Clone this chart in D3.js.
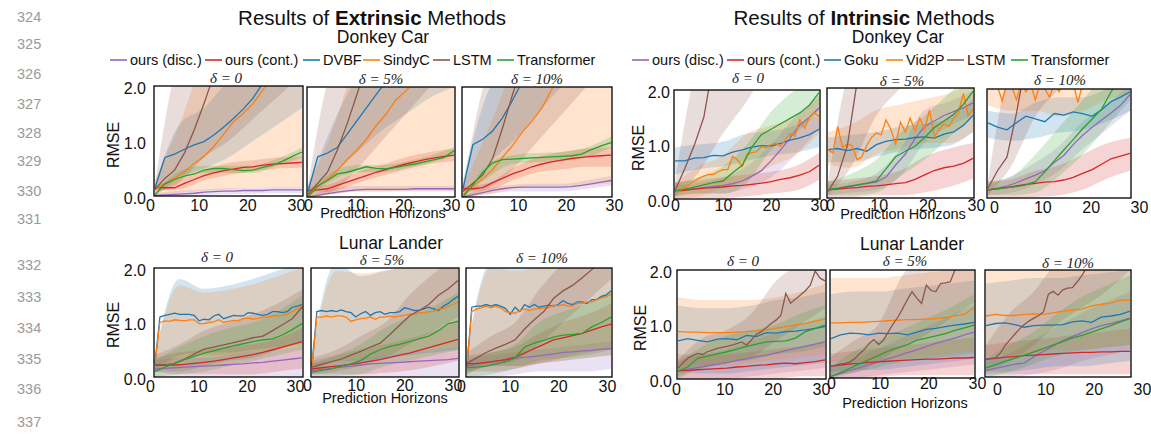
<!DOCTYPE html>
<html><head><meta charset="utf-8">
<script src="https://cdn.jsdelivr.net/npm/d3@7"></script>
<style>body{margin:0;background:#fff}svg{display:block;font-family:"Liberation Sans",Arial,sans-serif}</style>
</head><body><svg id="c" width="1151" height="435"></svg>
<script>
// ---------------- DATA ----------------
const xTicks = [0, 10, 20, 30];
const yTicks = [0, 1, 2];
const bandX = [0, 5, 10, 15, 20, 25, 30];
const deltaLabels = ["δ = 0", "δ = 5%", "δ = 10%"];
const extLegend = ["ours (disc.)", "ours (cont.)", "DVBF", "SindyC", "LSTM", "Transformer"];
const intLegend = ["ours (disc.)", "ours (cont.)", "Goku", "Vid2P", "LSTM", "Transformer"];
const lineNumbers = [324,325,326,327,328,329,330,331,332,333,334,335,336,337];

// series: disc, cont, b1 (DVBF/Goku), b2 (SindyC/Vid2P), lstm, trans
// arrays of length 16 -> horizons 0,2,..,30 ; length 31 -> horizons 0..30
const extDk0 = {
  disc:[0.01,0.02,0.03,0.04,0.05,0.07,0.08,0.09,0.09,0.1,0.1,0.1,0.11,0.11,0.11,0.11],
  cont:[0.15,0.15,0.15,0.23,0.3,0.37,0.42,0.46,0.49,0.52,0.53,0.56,0.58,0.59,0.6,0.61],
  b1:[0.15,0.7,0.76,0.85,0.93,0.99,1.11,1.25,1.41,1.58,1.78,2.05,2.3,2.55,2.8,3],
  b2:[0.12,0.23,0.32,0.44,0.59,0.72,0.9,1.12,1.35,1.5,1.68,1.93,2.15,2.4,2.6,2.8],
  lstm:[0.12,0.32,0.47,0.78,1.2,1.68,2.2,2.6,3,3,3,3,3,3,3,3],
  trans:[0.02,0.22,0.3,0.36,0.4,0.47,0.5,0.5,0.48,0.46,0.47,0.52,0.56,0.63,0.72,0.8]
};
const extDk0Band = {
  disc:[[0,0.05],[0,0.1],[0.02,0.12],[0.03,0.14],[0.04,0.15],[0.05,0.16],[0.05,0.16]],
  cont:[[0.1,0.2],[0.12,0.3],[0.28,0.46],[0.38,0.6],[0.45,0.65],[0.5,0.7],[0.52,0.72]],
  b1:[[0.1,0.2],[0.35,1.3],[0.5,1.6],[0.7,2.1],[1,2.5],[1.3,3],[1.6,3]],
  b2:[[0,0.3],[0.05,1.3],[0.1,2.5],[0.12,3],[0.15,3],[0.15,3],[0.15,3]],
  lstm:[[0.05,0.2],[0.25,2.5],[0.7,3],[1,3],[1.4,3],[1.8,3],[2.2,3]],
  trans:[[0,0.05],[0.3,0.45],[0.42,0.55],[0.42,0.55],[0.42,0.55],[0.55,0.68],[0.7,0.88]]
};
const extDk5 = {
  disc:[0,0.03,0.06,0.09,0.11,0.13,0.14,0.14,0.14,0.14,0.14,0.15,0.15,0.15,0.15,0.15],
  cont:[0.12,0.13,0.15,0.21,0.27,0.33,0.39,0.45,0.5,0.55,0.6,0.64,0.68,0.71,0.74,0.76],
  b1:[0.1,0.73,0.8,0.9,1.14,1.38,1.62,1.86,2.1,2.4,2.7,3,3,3,3,3],
  b2:[0.05,0.2,0.32,0.48,0.68,0.85,1.05,1.3,1.5,1.76,1.92,2.1,2.3,2.5,2.7,2.9],
  lstm:[0.05,0.25,0.45,0.85,1.32,1.85,2.4,3,3,3,3,3,3,3,3,3],
  trans:[0,0.2,0.3,0.42,0.45,0.5,0.55,0.52,0.51,0.54,0.57,0.6,0.64,0.68,0.72,0.84]
};
const extDk5Band = {
  disc:[[0,0.03],[0.05,0.15],[0.1,0.2],[0.1,0.2],[0.1,0.2],[0.1,0.2],[0.1,0.2]],
  cont:[[0.08,0.18],[0.1,0.25],[0.25,0.45],[0.38,0.58],[0.5,0.72],[0.6,0.82],[0.65,0.88]],
  b1:[[0.05,0.2],[0.4,1.3],[0.8,2.2],[1.2,3],[1.5,3],[1.8,3],[2,3]],
  b2:[[0,0.2],[0.05,1.2],[0.1,2.5],[0.1,3],[0.12,3],[0.12,3],[0.12,3]],
  lstm:[[0,0.2],[0.1,2.4],[0.5,3],[1,3],[1.5,3],[2,3],[2.5,3]],
  trans:[[0,0.05],[0.3,0.45],[0.45,0.58],[0.45,0.58],[0.52,0.64],[0.62,0.75],[0.75,0.9]]
};
const extDk10 = {
  disc:[0,0.04,0.08,0.12,0.15,0.17,0.18,0.18,0.18,0.18,0.18,0.19,0.21,0.24,0.27,0.3],
  cont:[0.15,0.15,0.17,0.26,0.34,0.42,0.48,0.55,0.6,0.64,0.67,0.7,0.72,0.74,0.75,0.76],
  b1:[0.15,0.95,1.05,1.2,1.44,1.75,2.1,2.5,3,3,3,3,3,3,3,3],
  b2:[0.05,0.2,0.33,0.5,0.72,0.93,1.18,1.38,1.62,1.96,2.3,2.6,2.9,3,3,3],
  lstm:[0.1,0.25,0.4,0.7,1.25,1.85,2.4,3,3,3,3,3,3,3,3,3],
  trans:[0,0.22,0.45,0.62,0.68,0.69,0.7,0.71,0.72,0.73,0.74,0.75,0.78,0.86,0.93,0.99]
};
const extDk10Band = {
  disc:[[0,0.03],[0.05,0.15],[0.1,0.22],[0.1,0.24],[0.1,0.24],[0.15,0.3],[0.2,0.38]],
  cont:[[0.1,0.2],[0.12,0.25],[0.3,0.52],[0.45,0.72],[0.5,0.82],[0.55,0.88],[0.55,0.9]],
  b1:[[0.1,0.3],[0.6,1.9],[1,2.5],[1.5,3],[2,3],[2.2,3],[2.5,3]],
  b2:[[0,0.2],[0.05,1.2],[0.15,2.3],[0.2,3],[0.2,3],[0.22,3],[0.25,3]],
  lstm:[[0,0.2],[0.15,2.3],[0.5,3],[1,3],[1.5,3],[2,3],[2.5,3]],
  trans:[[0,0.05],[0.35,0.6],[0.6,0.76],[0.63,0.8],[0.65,0.82],[0.72,0.9],[0.9,1.1]]
};
const extLn0 = {
  disc:[0.15,0.16,0.17,0.18,0.19,0.2,0.21,0.22,0.23,0.24,0.26,0.27,0.29,0.31,0.33,0.35],
  cont:[0.22,0.22,0.22,0.23,0.25,0.27,0.29,0.32,0.35,0.38,0.41,0.45,0.5,0.55,0.6,0.65],
  b1:[0.25,1.1,1.13,1.15,1.17,1.15,1.15,1.15,1.13,1.03,1.06,1.05,1.12,1.15,1.07,1.1,1.13,1.12,1.12,1.18,1.17,1.15,1.13,1.15,1.2,1.2,1.18,1.2,1.28,1.3,1.33],
  b2:[0.25,1,1.03,1.02,1.05,1.04,1.03,1.05,1.05,0.98,0.98,1,1.01,1.05,1,1.02,1.04,1.03,1.07,1.08,1.06,1.07,1.1,1.1,1.12,1.12,1.13,1.15,1.2,1.25,1.3],
  lstm:[0.22,0.22,0.25,0.33,0.42,0.51,0.55,0.59,0.63,0.67,0.72,0.75,0.85,0.96,1.07,1.28],
  trans:[0.1,0.18,0.25,0.32,0.38,0.44,0.48,0.53,0.57,0.61,0.65,0.68,0.7,0.77,0.87,0.98]
};
const extLn0Band = {
  disc:[[0,0.3],[0,0.35],[0,0.35],[0,0.4],[0,0.45],[0,0.5],[0,0.55]],
  cont:[[0.1,0.35],[0.05,0.45],[0.05,0.5],[0.05,0.55],[0.05,0.6],[0.1,0.7],[0.15,0.9]],
  b1:[[0.1,0.4],[0.4,1.8],[0.45,1.62],[0.45,1.68],[0.5,1.8],[0.55,1.95],[0.6,2.1]],
  b2:[[0.1,0.4],[0.35,1.68],[0.4,1.55],[0.4,1.6],[0.45,1.7],[0.5,1.85],[0.55,2]],
  lstm:[[0.1,0.4],[0.1,0.6],[0.2,0.85],[0.3,1],[0.35,1.15],[0.5,1.35],[0.65,1.6]],
  trans:[[0,0.3],[0.05,0.55],[0.1,0.75],[0.2,0.9],[0.3,1],[0.4,1.2],[0.5,1.5]]
};
const extLn5 = {
  disc:[0.12,0.14,0.16,0.18,0.2,0.22,0.24,0.25,0.26,0.27,0.28,0.29,0.3,0.31,0.32,0.34],
  cont:[0.15,0.17,0.19,0.21,0.23,0.26,0.29,0.32,0.36,0.4,0.44,0.49,0.54,0.59,0.64,0.69],
  b1:[0.2,1.2,1.22,1.2,1.22,1.2,1.23,1.2,1.18,1.1,1.16,1.2,1.13,1.18,1.2,1.15,1.18,1.18,1.2,1.27,1.25,1.22,1.22,1.25,1.28,1.25,1.22,1.3,1.35,1.42,1.48],
  b2:[0.2,1.1,1.1,1.12,1.1,1.12,1.12,1.1,1.02,1.05,1.07,1.08,1.1,1.06,1.1,1.1,1.12,1.1,1.12,1.13,1.15,1.15,1.18,1.18,1.2,1.2,1.25,1.25,1.3,1.33,1.38],
  lstm:[0.18,0.23,0.28,0.33,0.4,0.47,0.55,0.62,0.78,0.95,1.12,1.22,1.33,1.5,1.62,1.77],
  trans:[0.09,0.12,0.15,0.2,0.24,0.3,0.42,0.5,0.56,0.6,0.65,0.7,0.75,0.85,0.98,1.02]
};
const extLn5Band = {
  disc:[[0,0.25],[0,0.3],[0,0.35],[0,0.4],[0,0.45],[0,0.5],[0,0.55]],
  cont:[[0.05,0.3],[0.05,0.4],[0.05,0.5],[0.08,0.6],[0.12,0.7],[0.2,0.85],[0.3,1.05]],
  b1:[[0.1,0.5],[0.3,2.1],[0.3,1.85],[0.35,1.95],[0.4,2.05],[0.45,2.1],[0.5,2.2]],
  b2:[[0.1,0.4],[0.3,1.95],[0.35,1.9],[0.4,1.95],[0.45,2],[0.5,2],[0.55,2.1]],
  lstm:[[0.05,0.35],[0.1,0.5],[0.2,0.75],[0.35,1],[0.6,1.5],[0.85,1.9],[1.1,2.2]],
  trans:[[0,0.25],[0.02,0.4],[0.05,0.6],[0.2,0.9],[0.3,1.1],[0.4,1.3],[0.5,1.55]]
};
const extLn10 = {
  disc:[0.2,0.23,0.26,0.29,0.31,0.34,0.36,0.38,0.4,0.42,0.45,0.46,0.48,0.49,0.51,0.52],
  cont:[0.24,0.25,0.27,0.29,0.32,0.36,0.44,0.52,0.6,0.68,0.72,0.76,0.8,0.86,0.92,0.97],
  b1:[0.2,1.28,1.3,1.3,1.33,1.3,1.33,1.3,1.26,1.15,1.28,1.2,1.33,1.28,1.33,1.28,1.3,1.32,1.3,1.33,1.4,1.35,1.33,1.38,1.38,1.35,1.42,1.42,1.48,1.5,1.58],
  b2:[0.25,1.2,1.25,1.27,1.3,1.27,1.3,1.27,1.2,1.18,1.17,1.22,1.25,1.22,1.25,1.25,1.27,1.27,1.32,1.3,1.33,1.3,1.3,1.35,1.35,1.38,1.38,1.42,1.45,1.47,1.52],
  lstm:[0.25,0.35,0.45,0.53,0.6,0.68,0.88,1.05,1.2,1.44,1.58,1.68,1.82,1.97,2.15,2.3],
  trans:[0.17,0.18,0.2,0.24,0.28,0.35,0.55,0.62,0.67,0.73,0.77,0.78,0.8,0.92,1,1.1]
};
const extLn10Band = {
  disc:[[0,0.35],[0,0.4],[0.05,0.45],[0.1,0.5],[0.1,0.55],[0.1,0.6],[0.15,0.65]],
  cont:[[0.1,0.4],[0.1,0.45],[0.15,0.55],[0.25,0.8],[0.35,1],[0.45,1.15],[0.5,1.35]],
  b1:[[0.05,0.5],[0.2,2.1],[0.2,2],[0.25,2.1],[0.3,2.1],[0.35,2.2],[0.4,2.3]],
  b2:[[0.05,0.5],[0.2,2],[0.2,1.95],[0.25,2],[0.3,2.05],[0.35,2.1],[0.4,2.2]],
  lstm:[[0.1,0.45],[0.2,0.75],[0.3,1],[0.6,1.6],[1,2.1],[1.4,2.6],[1.8,2.9]],
  trans:[[0,0.3],[0.05,0.45],[0.15,0.6],[0.3,1],[0.35,1.2],[0.4,1.35],[0.5,1.6]]
};
const intDk0 = {
  disc:[0.15,0.17,0.19,0.21,0.23,0.25,0.28,0.33,0.42,0.52,0.7,0.9,1.12,1.36,1.5,1.67],
  cont:[0.14,0.16,0.18,0.2,0.21,0.22,0.24,0.25,0.27,0.29,0.32,0.36,0.39,0.44,0.5,0.62],
  b1:[0.7,0.7,0.75,0.76,0.8,0.79,0.86,0.9,0.95,0.98,0.97,1.02,1.08,1.12,1.18,1.28],
  b2:[0.12,0.15,0.2,0.27,0.33,0.38,0.42,0.45,0.45,0.5,0.54,0.54,0.78,0.72,0.6,0.82,0.85,0.87,0.96,0.94,1,1.02,0.97,1.09,1.2,1.15,1.45,1.3,1.5,1.58,1.52],
  lstm:[0.15,0.55,0.98,1.5,2.5,3,3,3,3,3,3,3,3,3,3,3],
  trans:[0.15,0.18,0.22,0.26,0.3,0.33,0.48,0.62,0.95,1.18,1.28,1.38,1.48,1.58,1.72,1.95]
};
const intDk0Band = {
  disc:[[0.05,0.25],[0.1,0.3],[0.1,0.4],[0.2,0.6],[0.4,1],[0.8,1.5],[1.3,1.9]],
  cont:[[0.02,0.3],[0.02,0.35],[0.02,0.4],[0.05,0.45],[0.1,0.5],[0.15,0.6],[0.35,0.85]],
  b1:[[0.45,0.95],[0.55,1],[0.6,1.05],[0.7,1.2],[0.8,1.25],[0.85,1.35],[0.95,1.55]],
  b2:[[0,0.3],[0.05,0.6],[0.2,0.8],[0.35,1.2],[0.6,1.35],[0.8,1.5],[1.2,1.9]],
  lstm:[[0.05,0.3],[0.5,2.5],[1.2,3],[1.8,3],[2.5,3],[3,3],[3,3]],
  trans:[[0.05,0.3],[0.1,0.4],[0.1,0.6],[0.3,1],[0.9,1.6],[1.2,2],[1.6,2.3]]
};
const intDk5 = {
  disc:[0.15,0.17,0.2,0.23,0.26,0.29,0.38,0.6,0.8,1.08,1.3,1.4,1.5,1.57,1.64,1.73],
  cont:[0.15,0.16,0.18,0.19,0.21,0.22,0.24,0.26,0.28,0.34,0.42,0.5,0.55,0.58,0.63,0.72],
  b1:[0.88,0.9,0.86,0.9,0.85,0.97,1.03,1.06,1.07,1.1,1.11,1.09,1.16,1.2,1.32,1.5],
  b2:[0.88,0.82,1.3,0.92,0.98,0.95,0.7,0.75,0.95,1.1,1.18,1.15,1.42,1.25,0.98,1.38,1.2,1.45,1.22,1.45,1.25,1.6,1.1,1.25,1.35,1.3,1.45,1.55,1.9,1.5,1.62],
  lstm:[0.12,0.4,0.95,2.1,3,3,3,3,3,3,3,3,3,3,3,3],
  trans:[0.15,0.18,0.21,0.24,0.27,0.31,0.53,0.75,0.85,0.94,1.1,1.28,1.4,1.52,1.7,1.94]
};
const intDk5Band = {
  disc:[[0.05,0.25],[0.1,0.3],[0.15,0.45],[0.4,0.9],[1,1.6],[1.3,1.75],[1.5,1.95]],
  cont:[[0.02,0.3],[0.02,0.35],[0.05,0.4],[0.05,0.5],[0.1,0.75],[0.2,0.9],[0.35,1]],
  b1:[[0.65,1.1],[0.65,1.15],[0.75,1.2],[0.85,1.3],[0.9,1.35],[0.95,1.45],[1.2,1.8]],
  b2:[[0.6,1.2],[0.55,1.35],[0.8,1.6],[0.9,1.7],[1,1.8],[1,1.9],[1.2,2.1]],
  lstm:[[0.05,0.3],[0.6,2.5],[1.5,3],[2,3],[2.5,3],[3,3],[3,3]],
  trans:[[0.05,0.3],[0.05,0.45],[0.1,0.7],[0.4,1.2],[0.7,1.5],[1.1,1.9],[1.5,2.3]]
};
const intDk10 = {
  disc:[0.15,0.18,0.22,0.28,0.35,0.42,0.5,0.65,0.78,0.98,1.15,1.3,1.43,1.56,1.7,1.9],
  cont:[0.15,0.17,0.19,0.22,0.25,0.27,0.29,0.3,0.33,0.38,0.45,0.52,0.62,0.72,0.77,0.82],
  b1:[1.38,1.3,1.25,1.38,1.5,1.45,1.4,1.55,1.52,1.58,1.55,1.5,1.62,1.77,1.85,1.95],
  b2:[2.1,2,2.05,1.78,2.1,2.05,1.8,2.1,1.95,2.1,1.8,2.1,2,1.85,2.1,1.95,2.1,2.05,2.1,1.75,2.1,2.05,2.15,2.1,2.2,2.2,2.2,2.2,2.2,2.2,2.2],
  lstm:[0.18,0.5,0.75,1.55,2.5,3,3,3,3,3,3,3,3,3,3,3],
  trans:[0.15,0.17,0.19,0.21,0.24,0.3,0.48,0.68,0.88,1.07,1.27,1.45,1.63,1.95,2.2,2.4]
};
const intDk10Band = {
  disc:[[0.05,0.25],[0.1,0.4],[0.25,0.65],[0.5,0.95],[0.9,1.4],[1.25,1.7],[1.6,2.1]],
  cont:[[0,0.3],[0,0.35],[0.02,0.5],[0.05,0.6],[0.15,0.8],[0.35,1],[0.5,1.1]],
  b1:[[1.1,1.6],[1.05,1.55],[1.1,1.75],[1.2,1.85],[1.25,1.85],[1.4,2],[1.6,2.2]],
  b2:[[1.7,2.5],[1.6,2.5],[1.6,2.5],[1.5,2.5],[1.6,2.5],[1.8,2.6],[1.9,2.6]],
  lstm:[[0.05,0.3],[0.6,2.5],[1.5,3],[2,3],[2.5,3],[3,3],[3,3]],
  trans:[[0.05,0.3],[0.05,0.4],[0.1,0.8],[0.4,1.3],[0.8,1.8],[1.3,2.3],[1.8,2.8]]
};
const intLn0 = {
  disc:[0.15,0.18,0.21,0.24,0.27,0.3,0.34,0.37,0.41,0.44,0.48,0.52,0.56,0.6,0.64,0.68],
  cont:[0.15,0.16,0.17,0.18,0.19,0.2,0.22,0.23,0.25,0.26,0.28,0.29,0.28,0.3,0.32,0.35],
  b1:[0.7,0.74,0.71,0.68,0.73,0.74,0.72,0.8,0.78,0.85,0.84,0.87,0.88,0.9,0.93,0.96],
  b2:[0.87,0.86,0.86,0.85,0.85,0.85,0.86,0.87,0.88,0.9,0.93,0.96,0.99,1.02,1.06,1.1],
  lstm:[0.2,0.3,0.38,0.43,0.47,0.45,0.5,0.53,0.56,0.58,0.6,0.62,0.65,0.68,0.62,0.72,0.82,0.87,0.94,1.02,1.08,1.17,1.57,1.39,1.47,1.54,1.62,1.72,1.98,1.85,1.8],
  trans:[0.15,0.22,0.38,0.42,0.46,0.5,0.55,0.6,0.64,0.68,0.69,0.7,0.75,0.87,0.93,0.99]
};
const intLn0Band = {
  disc:[[0,0.35],[0,0.45],[0,0.55],[0.05,0.7],[0.1,0.85],[0.15,1],[0.2,1.15]],
  cont:[[0,0.45],[0,0.45],[0,0.45],[0,0.5],[0,0.55],[0.05,0.6],[0.05,0.7]],
  b1:[[0.15,1.35],[0.1,1.3],[0.1,1.3],[0.15,1.35],[0.2,1.45],[0.25,1.5],[0.3,1.6]],
  b2:[[0.2,1.5],[0.25,1.45],[0.25,1.45],[0.3,1.45],[0.35,1.5],[0.4,1.6],[0.45,1.75]],
  lstm:[[0.05,0.35],[0.2,0.75],[0.3,0.9],[0.4,1.2],[0.7,1.8],[1,2.1],[1.3,2.2]],
  trans:[[0,0.3],[0.2,0.6],[0.3,0.8],[0.35,0.9],[0.45,1],[0.5,1.2],[0.6,1.35]]
};
const intLn5 = {
  disc:[0.03,0.08,0.14,0.19,0.25,0.3,0.36,0.41,0.47,0.52,0.58,0.64,0.69,0.74,0.8,0.85],
  cont:[0.22,0.24,0.26,0.27,0.29,0.3,0.31,0.32,0.33,0.34,0.35,0.35,0.36,0.37,0.37,0.38],
  b1:[0.73,0.8,0.83,0.82,0.8,0.83,0.82,0.83,0.8,0.85,0.9,0.92,0.95,0.98,1,1.03],
  b2:[1.02,1.02,1.03,1.03,1.04,1.05,1.06,1.07,1.08,1.08,1.09,1.1,1.12,1.15,1.18,1.3],
  lstm:[0.22,0.24,0.26,0.27,0.3,0.36,0.45,0.53,0.64,0.71,0.62,0.7,0.85,1,1.12,1.28,1.45,1.6,1.48,1.38,1.72,1.62,1.6,1.75,1.76,1.78,2,2.2,2.3,2.4,2.5],
  trans:[0.03,0.1,0.18,0.26,0.34,0.42,0.5,0.56,0.62,0.7,0.74,0.78,0.82,0.88,0.93,0.98]
};
const intLn5Band = {
  disc:[[0,0.2],[0,0.35],[0.05,0.55],[0.1,0.75],[0.15,0.95],[0.2,1.15],[0.25,1.35]],
  cont:[[0,0.45],[0,0.5],[0.02,0.55],[0.05,0.6],[0.05,0.65],[0.05,0.7],[0.05,0.75]],
  b1:[[0.1,1.55],[0.15,1.6],[0.15,1.6],[0.2,1.65],[0.25,1.7],[0.3,1.75],[0.35,1.8]],
  b2:[[0.3,1.85],[0.3,1.85],[0.3,1.85],[0.35,1.9],[0.4,1.95],[0.45,2],[0.5,2.1]],
  lstm:[[0.05,0.4],[0.1,0.7],[0.3,1],[0.6,1.9],[0.8,2.3],[1.1,2.6],[1.4,3]],
  trans:[[0,0.2],[0.1,0.5],[0.2,0.7],[0.3,0.9],[0.35,1.1],[0.4,1.3],[0.45,1.55]]
};
const intLn10 = {
  disc:[0.12,0.16,0.2,0.24,0.26,0.38,0.48,0.58,0.68,0.76,0.83,0.9,0.96,1,1.05,1.1],
  cont:[0.33,0.35,0.37,0.38,0.4,0.41,0.42,0.43,0.44,0.45,0.46,0.46,0.47,0.47,0.48,0.48],
  b1:[0.96,1,1.01,0.98,0.93,0.96,0.97,0.97,0.98,1.03,1.05,1.02,1.12,1.14,1.17,1.23],
  b2:[1.14,1.17,1.15,1.15,1.17,1.18,1.17,1.2,1.23,1.25,1.27,1.33,1.36,1.38,1.44,1.43],
  lstm:[0.34,0.35,0.36,0.45,0.59,0.7,0.8,0.9,0.98,1.05,1.1,1.15,1.22,1.55,1.6,1.53,1.63,1.66,1.67,1.78,1.9,2.05,2.2,2.35,2.5,2.6,2.7,2.8,2.9,3,3],
  trans:[0.17,0.23,0.29,0.35,0.41,0.47,0.53,0.6,0.66,0.73,0.78,0.84,0.9,0.96,1.03,1.09]
};
const intLn10Band = {
  disc:[[0,0.3],[0,0.45],[0.05,0.7],[0.15,0.95],[0.3,1.2],[0.4,1.4],[0.5,1.6]],
  cont:[[0.05,0.6],[0.05,0.65],[0.05,0.7],[0.05,0.75],[0.05,0.8],[0.05,0.85],[0.05,0.9]],
  b1:[[0.1,1.75],[0.1,1.8],[0.15,1.85],[0.2,1.85],[0.2,1.9],[0.25,1.95],[0.3,2]],
  b2:[[0.4,2.1],[0.4,2.1],[0.45,2.1],[0.5,2.1],[0.5,2.15],[0.55,2.2],[0.6,2.3]],
  lstm:[[0.1,0.6],[0.3,1.2],[0.6,1.6],[1,2.2],[1.3,2.6],[1.6,3],[2,3]],
  trans:[[0,0.35],[0.1,0.6],[0.25,0.85],[0.4,1.2],[0.5,1.5],[0.55,1.7],[0.6,1.9]]
};

// ---------------- LAYOUT / STYLE ----------------
const keys = ["disc","cont","b1","b2","lstm","trans"];
const colors = {disc:"#9467bd",cont:"#d62728",b1:"#1f77b4",b2:"#ff7f0e",lstm:"#8c564b",trans:"#2ca02c"};
const panels = [
  {data:extDk0, band:extDk0Band, box:[154,86,149,110], tl:[150,296], tb:211.5, d:0, dp:[226,83], ylab:8},
  {data:extDk5, band:extDk5Band, box:[307,87,148,110], tl:[308,451], tb:211.5, d:1, dp:[381,84]},
  {data:extDk10, band:extDk10Band, box:[462,87,150,110], tl:[470,614], tb:211.5, d:2, dp:[537,84]},
  {data:extLn0, band:extLn0Band, box:[154,268,149,109], tl:[150,295], tb:392, d:0, dp:[217,262], ylab:8},
  {data:extLn5, band:extLn5Band, box:[311,268,148,109], tl:[307,453], tb:391, d:1, dp:[382,265]},
  {data:extLn10, band:extLn10Band, box:[466,268,146,109], tl:[461,607], tb:392, d:2, dp:[542,263]},
  {data:intDk0, band:intDk0Band, box:[674,90,146,109], tl:[675,819], tb:211.5, d:0, dp:[748,83], ylab:4},
  {data:intDk5, band:intDk5Band, box:[827,88,147,110], tl:[830,976], tb:211.5, d:1, dp:[902,86]},
  {data:intDk10, band:intDk10Band, box:[987,89,144,109], tl:[994,1139], tb:213, d:2, dp:[1060,85]},
  {data:intLn0, band:intLn0Band, box:[677,270,149,109], tl:[676,821], tb:395, d:0, dp:[743,266], ylab:5},
  {data:intLn5, band:intLn5Band, box:[830,270,145,108], tl:[831,977], tb:389, d:1, dp:[905,266]},
  {data:intLn10, band:intLn10Band, box:[985,270,146,107], tl:[997,1142], tb:395, d:2, dp:[1068,268]}
];
const lineNumY = [17,44,74,104,133,161,191,219,265,297,328,359,389,422];

const svg = d3.select("#c");

// line numbers
svg.selectAll("text.ln").data(lineNumbers).join("text").attr("class","ln")
  .attr("x",17).attr("y",(d,i)=>lineNumY[i]).attr("dy","0.35em")
  .attr("font-size",14.5).attr("fill","#9a9a9a").text(d=>d);

panels.forEach((p,i)=>{
  const [bx,by,bw,bh] = p.box;
  const x = d3.scaleLinear().domain([0,30]).range([bx+1,bx+bw-1]);
  const y = d3.scaleLinear().domain([0,2]).range([by+bh,by]);
  svg.append("clipPath").attr("id","cl"+i).append("rect")
    .attr("x",bx).attr("y",by).attr("width",bw).attr("height",bh);
  const g = svg.append("g").attr("clip-path",`url(#cl${i})`);
  const area = d3.area().x((d,j)=>x(bandX[j])).y0(d=>y(d[0])).y1(d=>y(d[1])).curve(d3.curveMonotoneX);
  keys.forEach(k=>{
    g.append("path").attr("d",area(p.band[k])).attr("fill",colors[k]).attr("fill-opacity",0.2);
  });
  keys.forEach(k=>{
    const v = p.data[k], step = 30/(v.length-1);
    const line = d3.line().x((d,j)=>x(j*step)).y(d=>y(d));
    g.append("path").attr("d",line(v)).attr("fill","none").attr("stroke",colors[k]).attr("stroke-width",1.3);
  });
  svg.append("rect").attr("x",bx).attr("y",by).attr("width",bw).attr("height",bh)
    .attr("fill","none").attr("stroke","#111").attr("stroke-width",1.4);
  // x tick labels
  const xl = d3.scaleLinear().domain([0,30]).range(p.tl);
  const ax = svg.append("g").attr("transform",`translate(0,${p.tb-11.4})`)
    .call(d3.axisBottom(xl).tickValues(xTicks).tickSize(0).tickPadding(0));
  ax.select(".domain").remove();
  ax.selectAll("text").attr("font-size",16).attr("font-family","Liberation Sans, Arial, sans-serif").attr("fill","#111");
  // y tick labels
  if (p.ylab !== undefined) {
    const ay = svg.append("g").attr("transform",`translate(${bx-p.ylab},2)`)
      .call(d3.axisLeft(y).tickValues(yTicks).tickFormat(d3.format(".1f")).tickSize(0).tickPadding(0));
    ay.select(".domain").remove();
    ay.selectAll("text").attr("font-size",16).attr("font-family","Liberation Sans, Arial, sans-serif").attr("fill","#111");
  }
  // delta label
  svg.append("text").attr("x",p.dp[0]).attr("y",p.dp[1]).attr("text-anchor","middle")
    .attr("font-family","Liberation Serif, Times New Roman, serif").attr("font-style","italic")
    .attr("font-size",15).attr("fill","#222").text(deltaLabels[p.d]);
});

// RMSE labels
[[114,145],[114,325],[639,148],[641,328]].forEach(([cx,cy])=>{
  svg.append("text").attr("transform",`translate(${cx+5},${cy}) rotate(-90)`).attr("text-anchor","middle")
    .attr("font-size",16).attr("fill","#111").text("RMSE");
});
// Prediction Horizons
[[383,218],[385,403],[903,219],[905,408]].forEach(([cx,cy])=>{
  svg.append("text").attr("x",cx).attr("y",cy).attr("text-anchor","middle")
    .attr("font-size",14.5).attr("fill","#111").text("Prediction Horizons");
});
// Titles
function title(cx, word){
  const t = svg.append("text").attr("x",cx).attr("y",25).attr("text-anchor","middle").attr("font-size",20.5).attr("fill","#111");
  t.append("tspan").text("Results of ");
  t.append("tspan").attr("font-weight","bold").text(word);
  t.append("tspan").text(" Methods");
}
title(372,"Extrinsic"); title(864,"Intrinsic");
[[383,43,"Donkey Car"],[898,43,"Donkey Car"],[391,249,"Lunar Lander"],[912,250,"Lunar Lander"]].forEach(([cx,cy,s])=>{
  svg.append("text").attr("x",cx).attr("y",cy).attr("text-anchor","middle").attr("font-size",17.5).attr("fill","#111").text(s);
});
// Legends
function legend(labels, lineX, cy){
  labels.forEach((s,i)=>{
    svg.append("line").attr("x1",lineX[i]).attr("x2",lineX[i]+17).attr("y1",cy).attr("y2",cy)
      .attr("stroke",colors[keys[i]]).attr("stroke-width",1.6);
    svg.append("text").attr("x",lineX[i]+20).attr("y",cy).attr("dy","0.35em")
      .attr("font-size",14.5).attr("fill","#111").text(s);
  });
}
legend(extLegend,[110,205,303,363,433,497],60);
legend(intLegend,[632,727,824,886,947,1011],60);
</script></body></html>
